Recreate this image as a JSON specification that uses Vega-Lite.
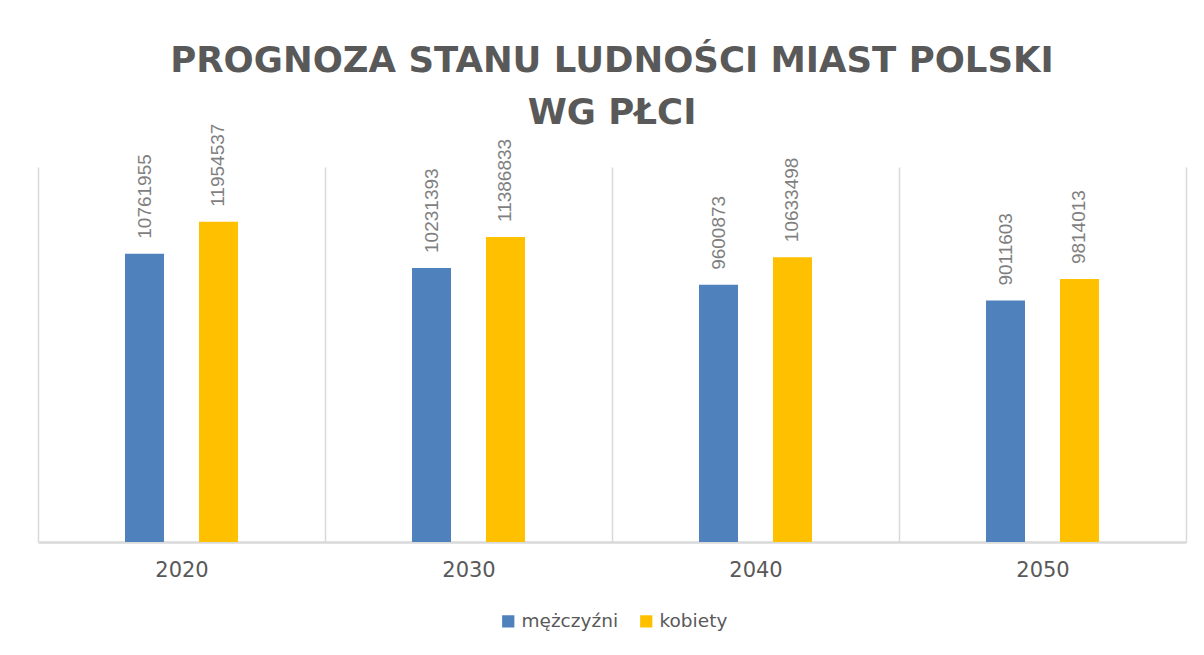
{
  "$schema": "https://vega.github.io/schema/vega-lite/v6.json",
  "width": 1148,
  "height": 375,
  "padding": {"left": 38, "top": 44, "right": 18, "bottom": 0},
  "background": "white",
  "title": {
    "text": ["PROGNOZA STANU LUDNOŚCI MIAST POLSKI", "WG PŁCI"],
    "font": "DejaVu Sans",
    "fontSize": 35.5,
    "fontWeight": "bold",
    "color": "#595959",
    "lineHeight": 52,
    "anchor": "middle",
    "frame": "group",
    "offset": -8
  },
  "data": {
    "values": [
      {"rok": "2020", "płeć": "mężczyźni", "ludność": 10761955},
      {"rok": "2020", "płeć": "kobiety", "ludność": 11954537},
      {"rok": "2030", "płeć": "mężczyźni", "ludność": 10231393},
      {"rok": "2030", "płeć": "kobiety", "ludność": 11386833},
      {"rok": "2040", "płeć": "mężczyźni", "ludność": 9600873},
      {"rok": "2040", "płeć": "kobiety", "ludność": 10633498},
      {"rok": "2050", "płeć": "mężczyźni", "ludność": 9011603},
      {"rok": "2050", "płeć": "kobiety", "ludność": 9814013}
    ]
  },
  "encoding": {
    "x": {
      "field": "rok",
      "type": "nominal",
      "scale": {"paddingInner": 0, "paddingOuter": 0},
      "axis": {
        "title": null,
        "labelAngle": 0,
        "tickBand": "extent",
        "ticks": false,
        "grid": true,
        "gridColor": "#d9d9d9",
        "gridWidth": 1.5,
        "domainColor": "#d9d9d9",
        "domainWidth": 2.5,
        "labelFont": "DejaVu Sans",
        "labelFontSize": 21,
        "labelColor": "#595959",
        "labelPadding": 17
      }
    },
    "y": {
      "field": "ludność",
      "type": "quantitative",
      "scale": {"domain": [0, 14000000]},
      "axis": null
    },
    "xOffset": {
      "field": "płeć",
      "type": "nominal",
      "sort": ["mężczyźni", "kobiety"],
      "scale": {"paddingInner": 0.12, "paddingOuter": 1}
    }
  },
  "layer": [
    {
      "mark": {"type": "bar", "width": 39},
      "encoding": {
        "color": {
          "field": "płeć",
          "type": "nominal",
          "sort": ["mężczyźni", "kobiety"],
          "scale": {"domain": ["mężczyźni", "kobiety"], "range": ["#4F81BD", "#FFC000"]},
          "legend": {
            "title": null,
            "orient": "none",
            "direction": "horizontal",
            "legendX": 461,
            "legendY": 445,
            "symbolType": "square",
            "symbolSize": 150,
            "symbolStrokeWidth": 0,
            "labelFont": "DejaVu Sans",
            "labelFontSize": 18.5,
            "labelColor": "#595959",
            "labelOffset": 4,
            "columnPadding": 18
          }
        }
      }
    },
    {
      "mark": {
        "type": "text",
        "angle": 270,
        "align": "left",
        "baseline": "middle",
        "dx": 15,
        "font": "Liberation Sans",
        "fontSize": 19,
        "color": "#7f7f7f"
      },
      "encoding": {
        "text": {"field": "ludność", "type": "quantitative", "format": "d"}
      }
    }
  ],
  "config": {
    "view": {"stroke": null}
  }
}
